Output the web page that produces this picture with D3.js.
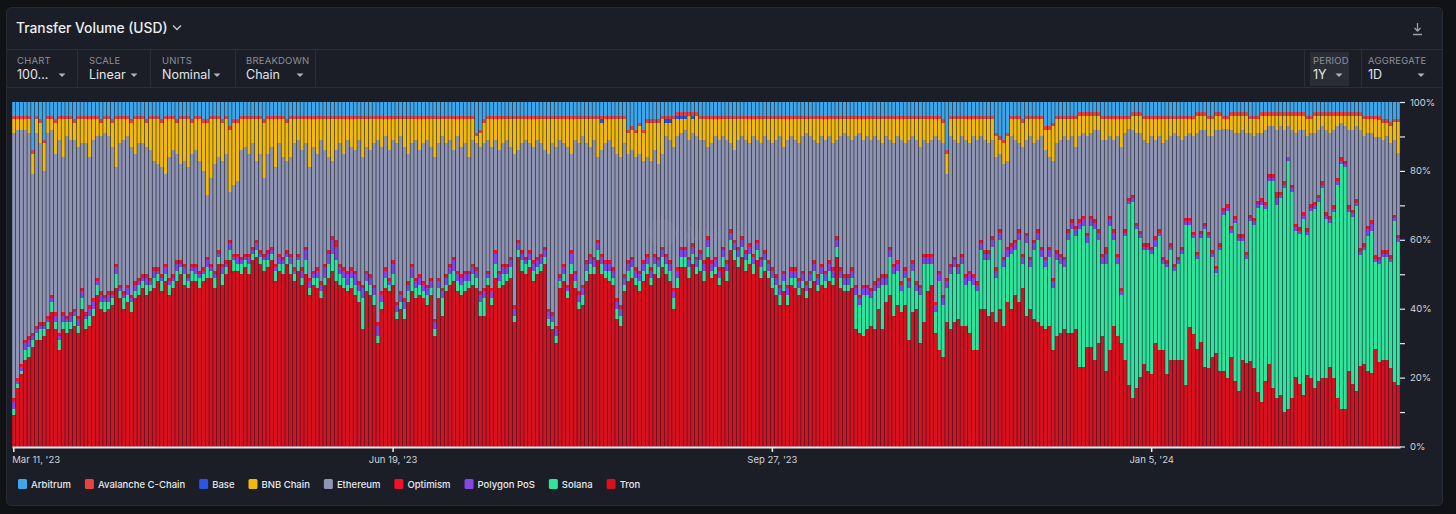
<!DOCTYPE html>
<html>
<head>
<meta charset="utf-8">
<script src="https://cdn.jsdelivr.net/npm/d3@7"></script>
<style>
  body { margin: 0; background: #111216; }
  svg { display: block; font-family: Inter, "Noto Sans", sans-serif; }
</style>
</head>
<body>
<svg id="chart" width="1456" height="514"></svg>
<script>
// Daily share of transfer volume per chain, Mar 11 '23 -> Mar 10 '24 (in %)
const firstDay = "2023-03-11";
const legendNames = ["Arbitrum", "Avalanche C-Chain", "Base", "BNB Chain", "Ethereum", "Optimism", "Polygon PoS", "Solana", "Tron"];
const stackOrder = ["Tron", "Solana", "Polygon PoS", "Optimism", "Ethereum", "BNB Chain", "Base", "Avalanche C-Chain", "Arbitrum"];
const chainColors = ["#3ea6ea", "#e84142", "#2a55e6", "#f0b90b", "#8e94b3", "#f0112b", "#8247e5", "#2ee59d", "#d8101f"];
const xTickDates = ["2023-03-11", "2023-06-19", "2023-09-27", "2024-01-05"];
const yTicks = [0, 0.1, 0.2, 0.3, 0.4, 0.5, 0.6, 0.7, 0.8, 0.9, 1];
const yLabelTicks = [0, 0.2, 0.4, 0.6, 0.8, 1];

const tron = [
9,17,21,25,26,29,31,31,32,34, 39,34,28,34,33,34,35,33,40,34, 35,38,44,40,39,40,41,46,43,40,
42,39,43,44,46,44,45,46,48,45, 48,44,46,48,50,47,46,48,48,46, 48,49,49,46,53,47,50,54,51,51,
50,52,50,54,55,53,51,52,54,48, 51,50,53,50,48,51,47,50,44,47, 46,43,47,49,51,48,47,46,45,46,
44,42,34,45,44,41,30,40,46,45, 47,37,40,37,42,45,43,44,43,41, 44,32,43,38,45,47,48,45,44,45,
46,47,46,38,38,47,41,49,46,47, 48,49,36,55,51,50,52,48,50,51, 53,35,34,30,46,48,43,50,46,40,
41,48,50,50,54,50,49,48,47,37, 35,45,48,49,47,45,48,50,47,50, 49,52,50,48,40,46,52,52,49,53,
50,51,48,55,49,50,47,52,48,57, 54,52,55,51,53,50,54,49,51,49, 46,44,41,45,41,47,46,44,46,43,
46,48,45,47,46,48,47,55,46,45, 45,46,34,33,32,34,35,34,40,34, 42,44,38,41,39,41,31,39,40,30,
36,45,47,33,28,26,36,34,36,37, 35,35,33,28,28,40,40,38,39,36, 40,35,42,40,44,42,46,38,40,37,
36,35,34,35,28,32,33,34,33,33, 34,23,23,29,29,25,30,32,22,28, 35,32,30,25,18,14,17,20,24,22,
21,30,28,28,21,25,25,25,25,18, 35,33,28,30,23,23,26,27,22,22, 20,26,19,16,25,24,25,23,16,13,
19,24,17,14,15,10,11,14,20,18, 15,21,20,17,19,20,20,23,20,14, 11,11,22,18,16,23,24,22,21,28,
24,25,25,23,19,18
];
const solana = [
2,1,1,3,3,2,2,3,2,2, 3,2,3,2,3,2,3,2,3,3, 3,2,3,2,3,2,2,4,2,3,
2,3,2,3,2,3,2,3,2,3, 2,3,2,3,2,3,2,3,2,3, 2,3,2,3,2,3,2,3,3,2,
3,2,3,2,2,2,3,2,2,3, 2,3,2,3,2,3,2,4,2,2, 3,2,2,4,5,6,3,3,2,3,
3,3,9,3,3,3,2,2,3,2, 3,2,2,3,3,4,3,3,2,3, 2,2,3,5,2,3,3,3,3,3,
2,3,3,4,5,2,2,4,2,3, 2,3,2,2,3,3,2,3,2,2, 2,2,2,2,2,2,2,3,2,2,
3,3,3,2,3,3,2,3,2,3, 3,2,3,3,2,3,3,3,2,3, 3,3,3,3,3,3,3,3,3,3,
2,3,3,3,2,2,2,3,3,3, 3,3,3,3,3,3,3,3,3,2, 3,3,3,3,3,2,3,2,2,2,
2,3,2,3,2,3,2,3,3,2, 2,3,10,8,12,10,8,11,6,13, 5,11,12,10,6,8,15,12,5,14,
17,8,6,6,20,15,10,16,16,13, 18,12,15,19,17,17,14,16,19,13, 20,17,13,16,13,18,7,21,12,20,
24,20,18,20,18,22,20,18,27,30, 27,40,41,30,35,38,30,21,31,36, 25,21,14,36,53,57,46,40,33,35,
35,28,33,25,31,32,26,28,31,47, 30,28,26,30,40,38,29,23,35,46, 49,36,46,43,34,30,41,42,54,57,
50,53,60,56,57,65,72,60,42,43, 51,41,49,52,52,55,46,42,48,62, 71,70,46,48,53,32,33,39,41,25,
28,30,30,31,47,42
];
const polygon = [
2,1,1,2,2,1,1,1,1,1, 1,2,1,2,1,2,1,2,2,1, 2,2,1,2,1,2,1,2,1,1,
2,1,2,1,1,2,1,2,1,1, 2,1,1,2,1,2,1,1,2,1, 1,2,1,1,1,2,1,2,1,2,
1,1,2,1,2,1,1,2,1,1, 2,1,1,2,1,1,2,3,2,1, 2,2,3,3,4,4,2,2,3,2,
3,2,3,2,2,2,3,2,2,1, 3,2,2,2,2,3,2,2,2,2, 2,2,2,2,2,2,3,2,2,2,
2,2,2,2,2,1,2,3,2,2, 2,2,2,2,2,1,2,2,2,2, 2,2,2,2,1,2,1,3,2,2,
2,2,2,2,2,2,2,2,2,2, 2,2,2,2,2,2,2,2,2,2, 2,2,2,2,2,2,2,2,2,2,
2,2,2,2,2,2,2,2,2,2, 2,2,2,2,2,2,2,2,2,2, 2,2,2,2,2,2,2,2,2,2,
2,2,2,2,2,2,2,2,2,2, 2,2,2,2,2,2,2,2,2,2, 2,2,2,2,2,2,2,2,2,2,
2,2,2,2,2,2,2,2,2,2, 2,2,2,2,2,2,2,2,2,2, 2,2,2,2,2,2,2,2,2,2,
2,2,2,2,2,2,2,2,2,2, 2,2,2,2,2,2,2,2,3,2, 2,2,1,1,1,1,1,1,1,1,
1,2,1,1,1,1,1,1,1,1, 1,1,1,1,1,1,1,1,1,1, 1,1,1,1,1,1,1,1,1,1,
1,1,1,2,1,1,1,1,1,1, 1,1,1,1,1,1,1,1,1,1, 1,1,1,1,1,1,1,2,2,1,
1,1,1,1,1,1
];
const optimism = [
1,1,1,1,1,1,1,1,1,1, 1,1,1,1,1,1,1,1,1,1, 1,1,1,1,1,1,1,1,1,1,
1,1,1,1,1,1,1,1,1,1, 1,1,1,1,1,1,1,1,1,1, 1,1,1,1,1,1,1,1,1,1,
1,1,1,1,1,1,1,1,1,1, 1,1,1,1,1,1,1,1,1,1, 1,1,1,1,1,2,1,1,1,1,
1,1,1,1,1,1,1,1,1,1, 1,1,1,1,1,1,1,1,1,1, 1,1,1,1,1,1,1,1,1,1,
1,1,1,1,1,1,1,1,1,1, 1,1,1,1,1,1,1,1,1,1, 1,1,1,1,1,1,1,1,1,1,
1,1,1,1,1,1,1,1,1,1, 1,1,1,1,1,1,1,1,1,1, 1,1,1,1,1,1,1,1,1,1,
1,1,1,1,1,1,1,1,1,1, 1,1,1,1,1,1,1,1,1,1, 1,1,1,1,1,1,1,1,1,1,
1,1,1,1,1,1,1,1,1,1, 1,1,1,1,1,1,1,1,1,1, 1,1,1,1,1,1,1,1,1,1,
1,1,1,1,1,1,1,1,1,1, 1,1,1,1,1,1,1,1,1,1, 1,1,1,1,1,1,1,1,1,1,
1,1,1,1,1,1,1,1,1,1, 1,1,1,1,1,1,1,1,2,1, 1,1,1,1,1,1,1,1,1,1,
1,1,1,1,1,1,1,1,1,1, 1,1,1,1,1,1,1,1,1,1, 1,1,1,1,1,1,1,1,1,1,
1,1,1,2,1,1,0,1,1,1, 1,1,1,1,1,1,1,1,1,1, 1,1,1,1,1,1,1,1,1,1,
1,1,1,1,1,1
];
const ethereum = [
77,72,68,61,59,46,56,52,44,53, 48,46,56,45,52,50,49,49,42,49, 43,46,41,45,47,45,42,28,41,44,
43,43,37,39,38,37,37,31,30,31, 26,35,36,31,28,30,31,32,33,32, 28,18,25,31,27,30,31,14,20,21,
31,31,29,30,23,28,22,28,29,28, 32,29,26,28,36,33,34,30,32,36, 33,41,33,27,22,26,35,33,38,35,
35,41,37,36,36,41,53,42,38,37, 35,46,45,44,37,35,40,36,40,42, 38,47,39,44,38,36,31,39,37,37,
33,36,36,42,42,38,41,32,35,35, 36,32,44,26,31,34,31,33,34,32, 28,45,49,52,39,35,40,28,38,43,
43,34,31,34,24,30,34,35,35,42, 43,38,31,31,32,34,29,28,31,30, 27,27,34,35,41,38,33,34,34,32,
35,32,35,26,34,35,37,32,35,25, 26,31,29,32,29,34,29,33,33,35, 36,39,43,36,42,38,37,39,39,43,
39,35,38,37,38,36,36,28,38,41, 40,37,43,47,42,43,43,42,40,38, 40,31,35,36,41,36,40,36,41,40,
33,32,33,48,38,44,30,37,34,35, 34,39,37,40,41,30,32,31,28,32, 22,27,25,31,29,25,31,27,35,28,
26,32,31,26,34,31,33,35,26,24, 23,24,24,28,24,26,29,33,31,23, 26,34,41,28,20,19,26,28,30,29,
32,28,27,33,35,31,38,35,31,24, 25,28,34,29,27,28,33,39,33,23, 22,28,24,29,30,34,24,24,20,19,
21,14,14,18,19,15,9,16,26,28, 24,27,21,20,19,16,24,24,22,15, 10,10,22,23,21,34,31,27,25,34,
34,32,33,33,22,24
];
const bnb = [
4,3,3,3,4,6,4,6,8,4, 3,9,6,11,5,6,5,8,7,7, 11,6,5,4,4,5,7,14,7,6,
5,7,10,7,7,7,9,12,13,13, 16,11,9,9,13,12,14,9,9,12, 14,21,17,13,11,11,10,18,18,17,
9,8,10,7,12,10,16,10,8,14, 7,11,11,11,7,6,9,7,14,8, 10,6,9,11,12,9,7,10,6,8,
9,6,11,8,9,7,6,8,5,9, 6,7,5,8,10,7,6,9,7,6, 8,11,7,5,7,6,9,5,8,7,
11,6,2,4,6,6,8,6,9,7, 6,8,10,9,7,6,7,8,6,7, 9,10,7,8,6,7,8,10,6,7,
5,7,8,6,11,8,7,6,8,10, 11,7,6,6,7,8,8,10,11,8, 12,10,4,5,8,5,4,3,7,4,
6,6,6,8,7,5,6,5,6,7, 9,6,5,6,7,5,6,7,5,6, 7,6,5,8,6,5,6,7,5,4,
5,6,7,5,6,5,7,6,5,4, 5,6,5,4,6,5,6,5,6,7, 5,6,7,5,6,7,6,5,6,8,
6,7,6,5,6,6,6,5,6,7, 5,6,7,5,6,5,6,7,6,6, 4,6,7,5,6,7,7,6,5,7,
6,5,6,8,10,7,6,5,6,5, 8,6,5,6,5,4,4,6,6,5, 6,5,8,4,3,4,5,5,6,7,
5,6,5,7,6,5,4,5,6,5, 4,5,5,4,4,5,5,4,4,3, 3,4,5,5,4,5,4,5,4,5,
4,3,3,4,3,4,3,4,5,4, 4,5,4,5,4,3,4,5,4,3, 2,3,4,4,3,4,5,4,4,5,
5,5,4,5,5,9
];
const base = [
0,0,0,0,0,0,0,0,0,0, 0,0,0,0,0,0,0,0,0,0, 0,0,0,0,0,0,0,0,0,0,
0,0,0,0,0,0,0,0,0,0, 0,0,0,0,0,0,0,0,0,0, 0,0,0,0,0,0,0,0,0,0,
0,0,0,0,0,0,0,0,0,0, 0,0,0,0,0,0,0,0,0,0, 0,0,0,0,0,0,0,0,0,0,
0,0,0,0,0,0,0,0,0,0, 0,0,0,0,0,0,0,0,0,0, 0,0,0,0,0,0,0,0,0,0,
0,0,0,0,0,0,0,0,0,0, 0,0,0,0,0,0,0,0,0,0, 0,0,0,0,0,0,0,0,0,0,
0,0,0,0,0,1,0,0,0,0, 0,0,0,0,0,0,0,0,0,0, 0,0,1,1,0,1,1,1,0,1,
0,0,0,0,0,0,0,0,0,0, 0,0,0,0,0,0,0,0,0,0, 0,0,0,0,0,0,0,0,0,0,
0,0,0,0,0,0,0,0,0,0, 0,0,0,0,0,0,0,0,0,0, 0,0,0,0,0,0,0,0,0,0,
0,0,0,0,0,0,0,0,0,0, 0,0,0,0,0,0,0,0,0,0, 0,0,0,0,0,0,0,0,0,0,
0,0,0,0,0,0,0,0,0,0, 0,0,0,0,0,0,0,0,0,0, 0,0,0,0,0,0,0,0,0,0,
0,0,0,0,0,0,0,0,0,0, 0,0,0,0,0,0,0,0,0,0, 0,0,0,0,0,0,0,0,0,0,
0,0,0,0,0,0,0,0,0,0, 0,0,0,0,0,0,0,0,0,0, 0,0,0,0,0,0,0,0,0,0,
0,0,0,0,0,0
];
const avalanche = [
1,1,1,1,1,1,1,1,1,1, 1,1,1,1,1,1,1,1,1,1, 1,1,1,1,1,1,1,1,1,1,
1,1,1,1,1,1,1,1,1,1, 1,1,1,1,1,1,1,1,1,1, 1,1,1,1,1,1,1,1,1,1,
1,1,1,1,1,1,1,1,1,1, 1,1,1,1,1,1,1,1,1,1, 1,1,1,1,1,1,1,1,1,1,
1,1,1,1,1,1,1,1,1,1, 1,1,1,1,1,1,1,1,1,1, 1,1,1,1,1,1,1,1,1,1,
1,1,1,1,1,1,1,1,1,1, 1,1,1,1,1,1,1,1,1,1, 1,1,1,1,1,1,1,1,1,1,
1,1,1,1,1,1,1,1,1,1, 1,1,1,1,1,1,1,1,1,1, 1,1,1,1,1,1,1,1,1,1,
1,1,1,1,1,1,1,1,1,1, 1,1,1,1,1,1,1,1,1,1, 1,1,1,1,1,1,1,1,1,1,
1,1,1,1,1,1,1,1,1,1, 1,1,1,1,1,1,1,1,1,1, 1,1,1,1,1,1,1,1,1,1,
1,1,1,1,1,1,1,1,1,1, 1,1,1,1,1,1,1,1,1,1, 1,1,1,1,1,1,1,1,1,1,
1,1,1,1,1,1,1,1,1,1, 1,1,1,1,1,1,1,1,1,1, 1,1,1,1,1,1,1,1,1,1,
1,1,1,1,1,1,1,1,1,1, 1,1,1,1,1,1,1,1,1,1, 1,1,1,1,1,1,1,1,1,1,
1,1,1,1,1,1,1,1,1,1, 1,1,1,1,1,1,1,1,1,1, 1,1,1,1,1,1,1,1,1,1,
1,1,1,1,1,1
];
const arbitrum = [
4,4,4,4,4,14,4,5,11,4, 4,5,4,4,4,4,5,4,4,4, 4,4,4,5,4,4,5,4,4,4,
4,5,4,4,4,5,4,4,4,5, 4,4,4,5,4,4,4,5,4,4, 5,5,4,4,4,5,4,7,5,5,
4,4,4,4,4,4,5,4,4,4, 4,4,5,4,4,4,4,4,4,4, 4,4,4,4,4,4,4,4,4,4,
4,4,4,4,4,4,4,4,4,4, 4,4,4,4,4,4,4,4,4,4, 4,4,4,4,4,4,4,4,4,4,
4,4,9,8,5,4,4,4,4,4, 4,4,4,4,4,4,4,4,4,4, 4,4,4,4,4,4,4,4,4,4,
4,4,4,4,4,4,4,4,4,4, 4,4,8,7,8,6,8,5,5,5, 5,4,4,4,4,3,3,3,3,3,
3,4,4,4,4,4,4,4,4,4, 4,4,4,4,4,4,4,4,4,4, 4,4,4,4,4,4,4,4,4,4,
4,4,4,4,4,4,4,4,4,4, 4,4,4,4,4,4,4,4,4,4, 4,4,4,4,4,4,4,4,4,4,
4,4,4,4,4,5,14,4,4,4, 4,4,4,4,4,4,4,4,4,9, 10,11,9,4,4,4,5,4,4,4,
4,4,7,7,6,4,4,4,4,4, 4,3,3,3,3,3,3,4,4,4, 4,4,4,4,4,3,3,3,4,4,
4,4,4,4,4,4,4,4,4,4, 4,4,3,3,3,4,4,3,3,4, 4,3,3,3,3,3,4,4,4,3,
3,3,3,3,3,3,3,3,3,3, 3,4,4,3,3,3,3,3,3,3, 3,3,3,3,3,3,4,4,4,4,
4,5,5,6,5,5,5,4,4
];

const svg = d3.select("#chart");
const W = 1456, H = 514;

// Carte (fond + entête)
svg.append("rect").attr("width", W).attr("height", H).attr("fill", "#111216");
svg.append("rect")
  .attr("x", 6.5).attr("y", 7.5).attr("width", 1436).attr("height", 498)
  .attr("rx", 5).attr("fill", "#1b1e26").attr("stroke", "#272b34");

svg.append("text")
  .attr("x", 16).attr("y", 33)
  .attr("fill", "#eceef2").attr("font-size", 13.8).attr("font-weight", 500)
  .text("Transfer Volume (USD)");
svg.append("path")
  .attr("d", "M173,25.5 L177,29.5 L181,25.5")
  .attr("fill", "none").attr("stroke", "#c4c7ce").attr("stroke-width", 1.4);

// Icône de téléchargement
svg.append("path")
  .attr("d", "M1417.5,23 V31 M1414.5,28 L1417.5,31 L1420.5,28 M1413,34.5 H1422")
  .attr("fill", "none").attr("stroke", "#9aa0ab").attr("stroke-width", 1.3);

svg.append("line").attr("x1", 7).attr("x2", 1442).attr("y1", 49.5).attr("y2", 49.5).attr("stroke", "#2a2e38");
svg.append("line").attr("x1", 7).attr("x2", 1442).attr("y1", 87.5).attr("y2", 87.5).attr("stroke", "#2a2e38");

// Contrôles
const controls = [
  { label: "CHART", value: "100...", x: 17, tri: 62, sep: 77 },
  { label: "SCALE", value: "Linear", x: 89, tri: 134, sep: 150 },
  { label: "UNITS", value: "Nominal", x: 162, tri: 217, sep: 235 },
  { label: "BREAKDOWN", value: "Chain", x: 246, tri: 300, sep: 315 },
  { label: "PERIOD", value: "1Y", x: 1313, tri: 1339, sep: 1361 },
  { label: "AGGREGATE", value: "1D", x: 1368, tri: 1421, sep: null }
];
svg.append("rect").attr("x", 1310).attr("y", 52).attr("width", 39).attr("height", 34).attr("fill", "#2a2d36");
svg.append("line").attr("x1", 1304.5).attr("x2", 1304.5).attr("y1", 50).attr("y2", 87).attr("stroke", "#2a2e38");
controls.forEach(c => {
  svg.append("text").attr("x", c.x).attr("y", 64)
    .attr("fill", "#8b909c").attr("font-size", 9.5).attr("letter-spacing", 0.2).text(c.label);
  svg.append("text").attr("x", c.x).attr("y", 79)
    .attr("fill", "#e3e5ea").attr("font-size", 12.5).text(c.value);
  svg.append("path")
    .attr("d", `M${c.tri - 3.5},73.5 L${c.tri + 3.5},73.5 L${c.tri},77 Z`)
    .attr("fill", "#aeb2bb");
  if (c.sep) {
    svg.append("line").attr("x1", c.sep + 0.5).attr("x2", c.sep + 0.5)
      .attr("y1", 50).attr("y2", 87).attr("stroke", "#2a2e38");
  }
});

// Données
const parseDay = d3.timeParse("%Y-%m-%d");
const start = parseDay(firstDay);
const seriesValues = {
  "Tron": tron, "Solana": solana, "Polygon PoS": polygon, "Optimism": optimism,
  "Ethereum": ethereum, "BNB Chain": bnb, "Base": base,
  "Avalanche C-Chain": avalanche, "Arbitrum": arbitrum
};
const colorOf = d3.scaleOrdinal().domain(legendNames).range(chainColors);

const table = tron.map((_, i) => {
  const row = { date: d3.timeDay.offset(start, i) };
  stackOrder.forEach(k => row[k] = seriesValues[k][i]);
  return row;
});
const stacked = d3.stack().keys(stackOrder).offset(d3.stackOffsetExpand)(table);

const x = d3.scaleBand()
  .domain(table.map(d => d.date))
  .range([12, 1400])
  .paddingInner(0.16)
  .paddingOuter(0.05);
const y = d3.scaleLinear().domain([0, 1]).range([446.5, 102]);

// Filigrane
const wm = svg.append("g").attr("opacity", 0.1);
wm.append("circle").attr("cx", 662).attr("cy", 233).attr("r", 14).attr("fill", "#ffffff");
wm.append("text").attr("x", 684).attr("y", 240).attr("fill", "#ffffff")
  .attr("font-size", 17).attr("font-weight", 500).text("Artemis");

// Barres empilées (y arrondi pour éviter les coutures entre segments)
svg.append("g")
  .selectAll("g")
  .data(stacked)
  .join("g")
  .attr("fill", s => colorOf(s.key))
  .selectAll("rect")
  .data(s => s)
  .join("rect")
  .attr("x", d => x(d.data.date))
  .attr("width", x.bandwidth())
  .attr("y", d => Math.round(y(d[1])))
  .attr("height", d => Math.max(0, Math.round(y(d[0])) - Math.round(y(d[1]))));

// Axe X
const xAxis = d3.axisBottom(x)
  .tickValues(xTickDates.map(parseDay))
  .tickFormat(d3.timeFormat("%b %-d, '%y"))
  .tickSize(5)
  .tickSizeOuter(0);
const gx = svg.append("g").attr("transform", "translate(0,447)").call(xAxis);
gx.select(".domain").attr("stroke", "#e9eaee").attr("stroke-width", 2);
gx.selectAll(".tick line").attr("stroke", "#e9eaee").attr("stroke-width", 1.5);
gx.selectAll(".tick text")
  .attr("fill", "#d2d5db").attr("font-size", 9.5).attr("font-family", "Inter, 'Noto Sans', sans-serif")
  .attr("dy", "0.85em")
  .attr("text-anchor", (d, i) => i === 0 ? "start" : "middle")
  .attr("x", (d, i) => i === 0 ? -1.5 : 0);

// Axe Y (à droite)
const yAxis = d3.axisRight(y)
  .tickValues(yTicks)
  .tickFormat(v => yLabelTicks.includes(v) ? d3.format(".0%")(v) : "")
  .tickSize(5)
  .tickPadding(5);
const gy = svg.append("g").attr("transform", "translate(1400,0)").call(yAxis);
gy.select(".domain").remove();
gy.selectAll(".tick line").attr("stroke", "#e9eaee").attr("stroke-width", 1.2);
gy.selectAll(".tick text")
  .attr("fill", "#d2d5db").attr("font-size", 9.5).attr("font-family", "Inter, 'Noto Sans', sans-serif");

// Légende
const legend = svg.append("g").attr("transform", "translate(18,484)");
let lx = 0;
legendNames.forEach(name => {
  const item = legend.append("g").attr("transform", `translate(${lx},0)`);
  item.append("rect").attr("x", 0).attr("y", -5).attr("width", 9).attr("height", 10)
    .attr("rx", 1.5).attr("fill", colorOf(name));
  const t = item.append("text").attr("x", 13).attr("y", 3.5)
    .attr("fill", "#e6e8ec").attr("font-size", 9.5).attr("font-weight", 500).text(name);
  lx += 13 + t.node().getComputedTextLength() + 14;
});
</script>
</body>
</html>
